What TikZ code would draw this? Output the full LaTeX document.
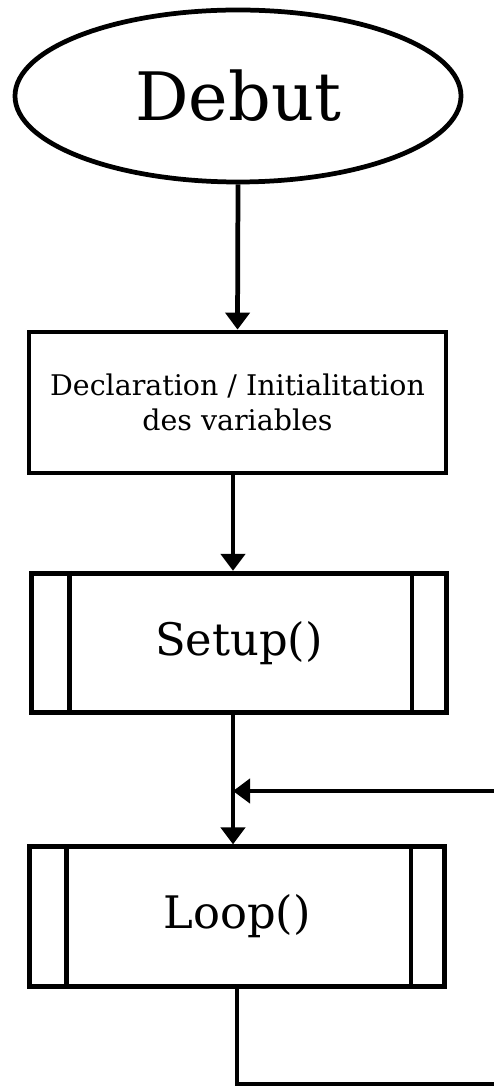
\documentclass[tikz,border=0pt]{standalone}
\usepackage{fontspec}
\setmainfont{DejaVu Serif}
\usetikzlibrary{shapes.geometric,arrows.meta}
\begin{document}
\begin{tikzpicture}[
	flow/.style={black,line width=2.7pt},
	fleche/.style={flow,-{Triangle[length=3.4mm,width=4.8mm]}},
	bloc/.style={draw,line width=2.7pt,rectangle,inner sep=0pt,align=center},
	sousprog/.style={bloc,minimum width=8.3cm,minimum height=2.79cm,font=\fontsize{25.5}{30}\selectfont}]
			\useasboundingbox (0,0) rectangle (9.88,-21.72);
			\node[draw,ellipse,line width=2.7pt,inner sep=0pt,minimum width=8.92cm,minimum height=3.44cm,font=\fontsize{38}{44}\selectfont](debut) at (4.76,-1.92){Debut};
			\node[bloc,minimum width=8.34cm,minimum height=2.82cm,font=\fontsize{16.2}{19.9}\selectfont](decl) at (4.75,-8.05){Declaration / Initialitation\\des variables};
			\node[sousprog](setup) at (4.78,-12.86){Setup()};
			\node[sousprog](loop) at (4.74,-18.33){Loop()};
			\draw[flow]([xshift=0.8cm]setup.north west)--([xshift=0.8cm]setup.south west);
			\draw[flow]([xshift=-0.74cm]setup.north east)--([xshift=-0.74cm]setup.south east);
			\draw[flow]([xshift=0.78cm]loop.north west)--([xshift=0.78cm]loop.south west);
			\draw[flow]([xshift=-0.72cm]loop.north east)--([xshift=-0.72cm]loop.south east);
			\coordinate(retour) at (9.88,-15.82);
			\coordinate(jonction) at (4.66,-15.82);
			\coordinate(bas) at (4.74,-21.69);
			\coordinate(sortie) at (9.88,-21.69);
			\draw[fleche](debut.south)--(decl.north);
			\draw[fleche](decl.south -| 4.66,0)--(setup.north -| 4.66,0);
			\draw[fleche](setup.south -| 4.66,0)--(loop.north -| 4.66,0);
			\draw[fleche](retour)--(jonction);
			\draw[flow](loop.south)--(bas)--(sortie);
		\end{tikzpicture}
\end{document}
